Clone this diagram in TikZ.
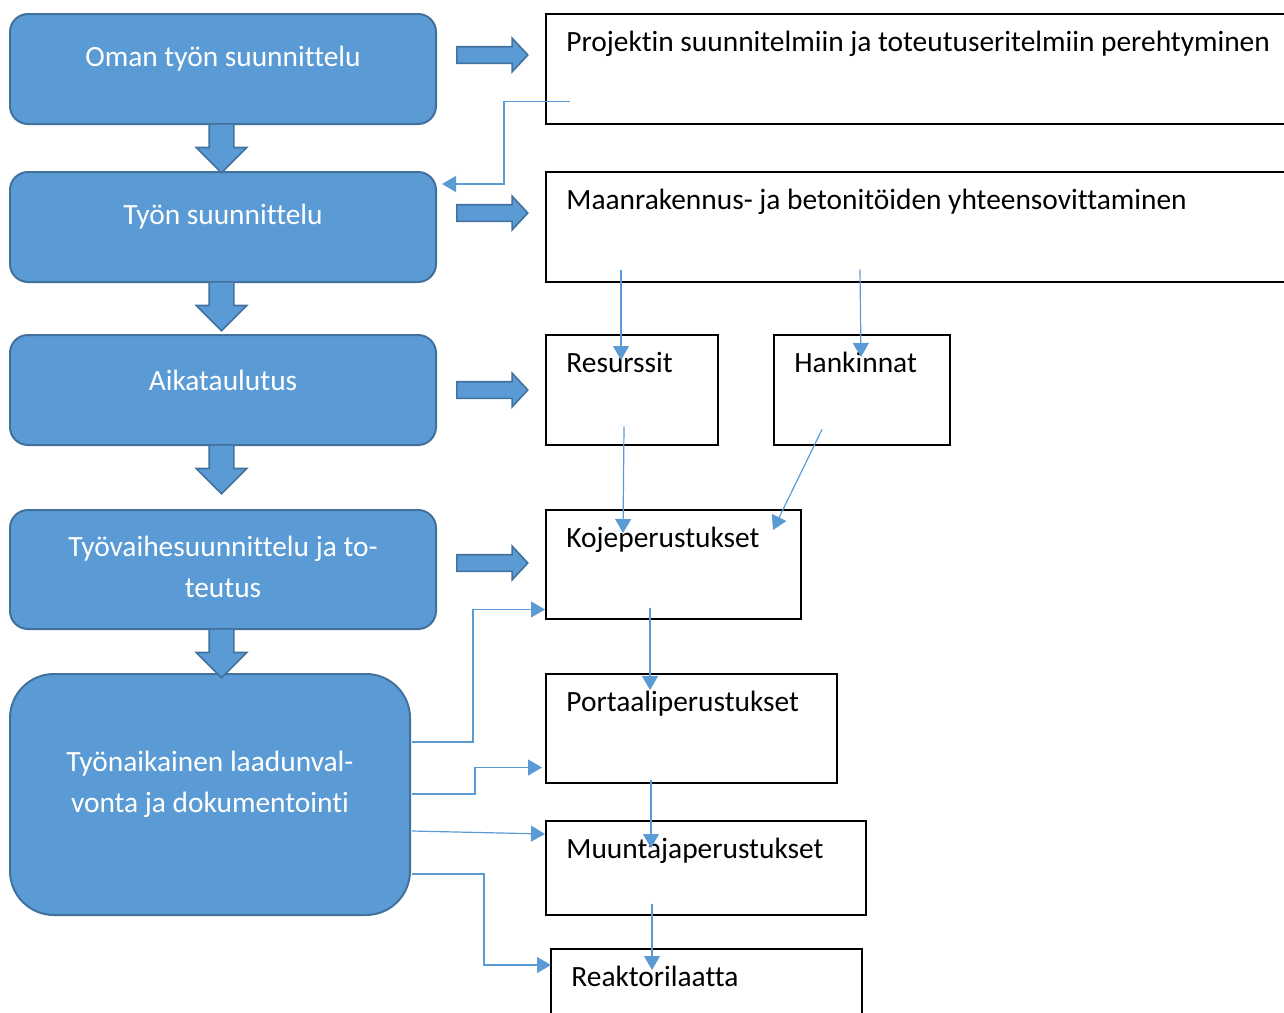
\documentclass[tikz,border=0pt]{standalone}
\usepackage{fontspec}
\setmainfont{Carlito}[Ligatures=NoCommon]
\usepackage{tikz}
\usetikzlibrary{arrows.meta,positioning,calc,shapes.arrows}
\definecolor{laatsin}{HTML}{5B9BD5}
\definecolor{reunasin}{HTML}{41719C}
\newcommand{\teksti}{\fontsize{14.7}{20.5}\selectfont}
\tikzset{
  vaihe/.style    = {draw=reunasin, line width=1pt, fill=laatsin, rounded corners=9pt,
                     anchor=north west, inner sep=0pt, minimum width=213pt, minimum height=55pt},
  valk/.style     = {text=white, font=\teksti, align=center, inner sep=0pt, anchor=center},
  laatikko/.style = {draw, line width=0.75pt, anchor=north west, inner sep=0pt, minimum height=55pt},
  otsikko/.style  = {anchor=base west, font=\teksti, inner sep=0pt, xshift=10.5pt, yshift=-19pt},
  oikea/.style    = {single arrow, draw=reunasin, line width=0.8pt, fill=laatsin, anchor=tail,
                     inner xsep=0pt, inner ysep=3.75pt,
                     minimum height=35.5pt, minimum width=16pt, single arrow head extend=4.25pt,
                     single arrow tip angle=94},
  alas/.style     = {single arrow, draw=reunasin, line width=0.8pt, fill=laatsin, anchor=tail,
                     inner xsep=0pt, inner ysep=5.75pt,
                     minimum height=24.5pt, minimum width=24.5pt, single arrow head extend=6.5pt,
                     single arrow tip angle=90, rotate=-90},
  ohut/.style     = {-{Triangle[length=7pt, width=8pt]}, draw=laatsin, line width=0.6pt},
}

\begin{document}
\begin{tikzpicture}[x=0.5pt, y=-0.5pt]
  \useasboundingbox (0,0) rectangle (1284,1012);
  \clip (0,0) rectangle (1284,1012);

  % Vasen sarake
  \node[vaihe, label={[valk, yshift=5pt]center:Oman työn suunnittelu}] (b1) at (9,13) {};
  \node[vaihe, label={[valk, yshift=5pt]center:Työn suunnittelu}] (b2) at (9,171) {};
  \node[vaihe, label={[valk, yshift=5pt]center:Aikataulutus}] (b3) at (9,334) {};
  \node[vaihe, minimum height=59.5pt,
        label={[valk, yshift=1.5pt]center:Työvaihesuunnittelu ja to-\\teutus}] (b4) at (9,509) {};
  \node[vaihe, minimum width=200pt, minimum height=120.5pt, rounded corners=22pt,
        label={[valk, yshift=5pt]center:Työnaikainen laadunval-\\vonta ja dokumentointi}] (b5) at (9,673) {};

  \node[alas] (a1) at (221.5,123) {};
  \node[alas] (a2) at (221.5,281) {};
  \node[alas] (a3) at (221.5,444) {};
  \node[alas] (a4) at (221.5,628) {};

  \node[oikea] (o1) at (456,55) {};
  \node[oikea] (o2) at (456,213) {};
  \node[oikea] (o3) at (456,390) {};
  \node[oikea] (o4) at (456,563) {};

  % Oikea sarake
  \node[laatikko, minimum width=380pt,
        label={[otsikko]north west:Projektin suunnitelmiin ja toteutuseritelmiin perehtyminen}] (p1) at (545,13) {};
  \node[laatikko, minimum width=380pt,
        label={[otsikko]north west:Maanrakennus- ja betonitöiden yhteensovittaminen}] (p2) at (545,171) {};
  \node[laatikko, minimum width=86pt, label={[otsikko]north west:Resurssit}] (res) at (545,334) {};
  \node[laatikko, minimum width=88pt, label={[otsikko]north west:Hankinnat}] (han) at (773,334) {};
  \node[laatikko, minimum width=127.5pt, minimum height=54.5pt,
        label={[otsikko]north west:Kojeperustukset}] (koje) at (545,509) {};
  \node[laatikko, minimum width=145.5pt, minimum height=54.5pt,
        label={[otsikko]north west:Portaaliperustukset}] (port) at (545,673) {};
  \node[laatikko, minimum width=160pt, minimum height=47pt,
        label={[otsikko]north west:Muuntajaperustukset}] (muun) at (545,820) {};
  \node[laatikko, minimum width=155.5pt, minimum height=40pt,
        label={[otsikko]north west:Reaktorilaatta}] (reak) at (550,948) {};

  % Ohuet nuolet
  \draw[ohut] ($(p1.south west)+(25,-23)$) -- ++(-66,0) |- ($(b2.north east)+(5,13)$);
  \draw[ohut] ($(p2.south west)+(76,-13)$) -- ($(res.north west)+(76,26)$);
  \draw[ohut] ($(p2.south west)+(315,-13)$) -- ($(han.north west)+(88,23)$);
  \draw[ohut] ($(res.south west)+(79,-19)$) -- ($(koje.north west)+(78,24)$);
  \draw[ohut] ($(han.south west)+(49,-16)$) -- ($(koje.north west)+(228,21)$);
  \draw[ohut] ($(koje.south west)+(105,-12)$) -- ($(port.north west)+(105,17)$);
  \draw[ohut] ($(port.south west)+(106,-4)$) -- ($(muun.north west)+(106,28)$);
  \draw[ohut] ($(muun.south west)+(107,-12)$) -- ($(reak.north west)+(102,22)$);

  \draw[ohut] ($(b5.north east)+(1,69)$) -- ++(61,0) |- ($(koje.south west)+(0,-10)$);
  \draw[ohut] ($(b5.north east)+(1,121)$) -- ++(63,0) |- ($(port.south west)+(-3,-16)$);
  \draw[ohut] ($(b5.north east)+(1,158)$) -- ($(muun.north west)+(0,14)$);
  \draw[ohut] ($(b5.north east)+(1,201)$) -- ++(72,0) |- ($(reak.north west)+(1,17)$);
\end{tikzpicture}
\end{document}
